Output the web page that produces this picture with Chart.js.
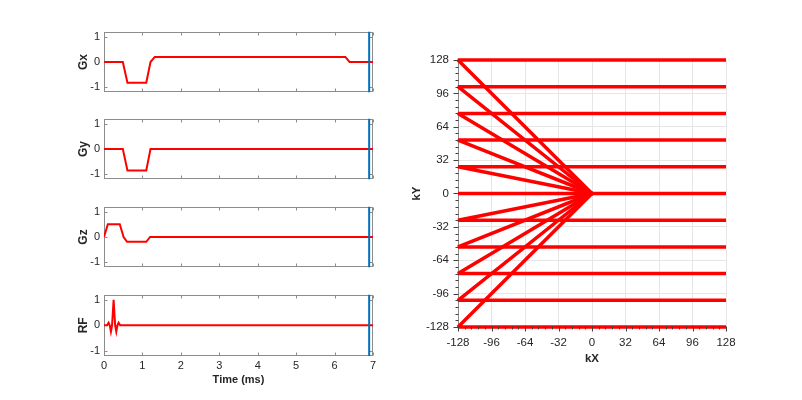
<!DOCTYPE html>
<html>
<head>
<meta charset="utf-8">
<script src="https://cdn.jsdelivr.net/npm/chart.js@4.4.0/dist/chart.umd.min.js"></script>
<style>
body { margin: 0; background: #fff; width: 802px; height: 400px; position: relative; overflow: hidden; }
canvas { position: absolute; }
</style>
</head>
<body>
<canvas id="gx" width="320" height="82" style="left:70px;top:21px"></canvas>
<canvas id="gy" width="320" height="82" style="left:70px;top:108px"></canvas>
<canvas id="gz" width="320" height="82" style="left:70px;top:196px"></canvas>
<canvas id="rf" width="320" height="110" style="left:70px;top:284px"></canvas>
<canvas id="kspace" width="340" height="340" style="left:400px;top:40px"></canvas>
<script>
// sequence waveforms (time in ms, normalised amplitude)
const timeTicks = [0, 1, 2, 3, 4, 5, 6, 7];
const ampTicks = [-1, 0, 1];
const seqEnd = 6.9;

const gxTime = [0, 0.49, 0.61, 1.10, 1.21, 1.32, 6.28, 6.39, 7];
const gxAmp  = [0, 0, -0.82, -0.82, 0, 0.2, 0.2, 0, 0];

const gyTime = [0, 0.49, 0.61, 1.10, 1.21, 7];
const gyAmp  = [0, 0, -0.85, -0.85, 0, 0];

const gzTime = [0, 0.1, 0.41, 0.51, 0.6, 1.1, 1.2, 7];
const gzAmp  = [0, 0.5, 0.5, 0, -0.19, -0.19, 0, 0];

const rfTime = [0, 0.08, 0.12, 0.15, 0.18, 0.21, 0.25, 0.29, 0.32, 0.35, 0.38, 0.42, 7];
const rfAmp  = [0, 0, 0.1, 0, -0.25, 0, 1, 0, -0.25, 0, 0.1, 0, 0];

// k-space trajectory: one phase encode line per ky
const kyLines = [128, 102.4, 76.8, 51.2, 25.6, 0, -25.6, -51.2, -76.8, -102.4, -128];
const kxStart = -128;
const kxEnd = 128;
const kAxisTicks = [-128, -96, -64, -32, 0, 32, 64, 96, 128];

const FONT = "'Liberation Sans', Arial, Helvetica, sans-serif";
const TXT = '#262626';

const boxTicks = {
    id: 'boxTicks',
    beforeDatasetsDraw(chart) {
        const {ctx, chartArea: a, scales} = chart;
        const l = Math.round(a.left) + 0.5, r = Math.round(a.right) - 0.5;
        const t = Math.round(a.top) + 0.5, b = Math.round(a.bottom) - 0.5;
        ctx.save();
        ctx.strokeStyle = '#8c8c8c';
        ctx.lineWidth = 1;
        ctx.strokeRect(l, t, r - l, b - t);
        ctx.beginPath();
        timeTicks.forEach(v => {
            const x = Math.round(scales.x.getPixelForValue(v)) + 0.5;
            ctx.moveTo(x, b); ctx.lineTo(x, b - 3);
            ctx.moveTo(x, t); ctx.lineTo(x, t + 3);
        });
        ampTicks.forEach(v => {
            const y = Math.round(scales.y.getPixelForValue(v)) + 0.5;
            ctx.moveTo(l, y); ctx.lineTo(l + 3, y);
            ctx.moveTo(r, y); ctx.lineTo(r - 3, y);
        });
        ctx.stroke();
        ctx.restore();
    }
};

function makePanel(id, label, t, a, bottom) {
    new Chart(document.getElementById(id), {
        type: 'scatter',
        data: {
            datasets: [
                {
                    data: [{x: seqEnd, y: -1.2}, {x: seqEnd, y: 1.2}],
                    showLine: true, borderColor: '#0072bd', borderWidth: 2, pointRadius: 0
                },
                {
                    data: t.map((x, i) => ({x: x, y: a[i]})),
                    showLine: true, borderColor: '#ff0000', borderWidth: 2, pointRadius: 0
                }
            ]
        },
        options: {
            responsive: false,
            animation: false,
            layout: {padding: {top: 10, bottom: bottom ? 4 : 10, left: 0, right: 17}},
            plugins: {legend: {display: false}, tooltip: {enabled: false}},
            scales: {
                x: {
                    type: 'linear', min: 0, max: 7,
                    afterBuildTicks: s => { s.ticks = timeTicks.map(v => ({value: v})); },
                    afterFit: s => { s.height = bottom ? 34 : 0; s.paddingLeft = 0; s.paddingRight = 0; },
                    grid: {display: false, drawTicks: false},
                    border: {display: false},
                    ticks: {display: bottom, padding: 3, maxRotation: 0, autoSkip: false,
                        color: TXT, font: {family: FONT, size: 11}},
                    title: {display: bottom, text: 'Time (ms)', color: TXT,
                        padding: {top: 0, bottom: 3.4}, font: {family: FONT, size: 11, weight: 'bold'}}
                },
                y: {
                    type: 'linear', min: -1.2, max: 1.2,
                    afterBuildTicks: s => { s.ticks = ampTicks.map(v => ({value: v})); },
                    afterFit: s => { s.width = 34; },
                    grid: {display: false, drawTicks: false},
                    border: {display: false},
                    ticks: {padding: 4, color: TXT, font: {family: FONT, size: 11}},
                    title: {display: true, text: label, color: TXT,
                        padding: {top: 6, bottom: 0}, font: {family: FONT, size: 12, weight: 'bold'}}
                }
            }
        },
        plugins: [boxTicks]
    });
}

makePanel('gx', 'Gx', gxTime, gxAmp, false);
makePanel('gy', 'Gy', gyTime, gyAmp, false);
makePanel('gz', 'Gz', gzTime, gzAmp, false);
makePanel('rf', 'RF', rfTime, rfAmp, true);

const kTicks = {
    id: 'kTicks',
    afterDraw(chart) {
        const {ctx, chartArea: a, scales} = chart;
        const l = Math.round(a.left) + 0.5, b = Math.round(a.bottom) - 0.5;
        ctx.save();
        ctx.strokeStyle = '#404040';
        ctx.lineWidth = 1;
        ctx.beginPath();
        for (let v = -128; v <= 128.01; v += 6.4) {
            const len = kAxisTicks.some(k => Math.abs(k - v) < 0.01) ? 5 : 3;
            const x = Math.round(scales.x.getPixelForValue(v)) + 0.5;
            const y = Math.round(scales.y.getPixelForValue(v)) + 0.5;
            ctx.moveTo(x, b); ctx.lineTo(x, b + len);
            ctx.moveTo(l, y); ctx.lineTo(l - len, y);
        }
        ctx.stroke();
        ctx.restore();
    }
};

new Chart(document.getElementById('kspace'), {
    type: 'scatter',
    data: {
        datasets: kyLines.map(ky => ({
            data: [{x: 0, y: 0}, {x: kxStart, y: ky}, {x: kxEnd, y: ky}],
            showLine: true, borderColor: '#ff0000', borderWidth: 3.5, pointRadius: 0,
            borderJoinStyle: 'bevel', clip: false
        }))
    },
    options: {
        responsive: false,
        animation: false,
        layout: {padding: {top: 20, bottom: 8, left: 0, right: 14}},
        plugins: {legend: {display: false}, tooltip: {enabled: false}},
        scales: {
            x: {
                type: 'linear', min: -128, max: 128,
                afterBuildTicks: s => { s.ticks = kAxisTicks.map(v => ({value: v})); },
                afterFit: s => { s.height = 45; s.paddingLeft = 0; s.paddingRight = 0; },
                grid: {color: '#e6e6e6', drawTicks: false},
                border: {display: true, color: '#8c8c8c'},
                ticks: {padding: 9, maxRotation: 0, autoSkip: false, color: TXT,
                    font: {family: FONT, size: 11.5}},
                title: {display: true, text: 'kX', color: TXT,
                    padding: {top: 0, bottom: 6.4}, font: {family: FONT, size: 11.5, weight: 'bold'}}
            },
            y: {
                type: 'linear', min: -128, max: 128,
                afterBuildTicks: s => { s.ticks = kAxisTicks.map(v => ({value: v})); },
                afterFit: s => { s.width = 58; s.paddingTop = 0; s.paddingBottom = 0; },
                grid: {color: '#e6e6e6', drawTicks: false},
                border: {display: true, color: '#8c8c8c'},
                ticks: {padding: 9, color: TXT, font: {family: FONT, size: 11.5}},
                title: {display: true, text: 'kY', color: TXT,
                    padding: {top: 10.4, bottom: 0}, font: {family: FONT, size: 11.5, weight: 'bold'}}
            }
        }
    },
    plugins: [kTicks]
});
</script>
</body>
</html>
